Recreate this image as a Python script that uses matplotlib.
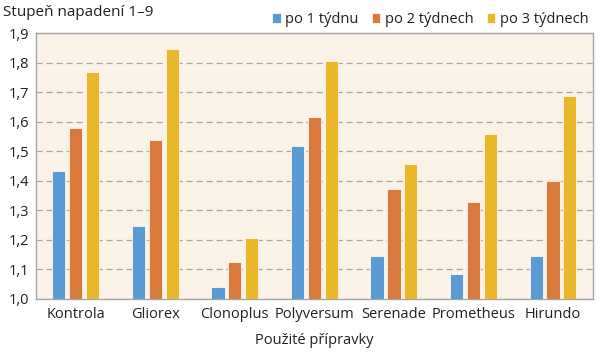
import matplotlib
matplotlib.use('agg')
import matplotlib.pyplot as plt
import numpy as np

plt.rcParams['font.family'] = ['Open Sans', 'DejaVu Sans']

products = ['Kontrola', 'Gliorex', 'Clonoplus', 'Polyversum', 'Serenade', 'Prometheus', 'Hirundo']
week1 = [1.432, 1.247, 1.040, 1.517, 1.145, 1.083, 1.145]
week2 = [1.578, 1.540, 1.125, 1.615, 1.372, 1.330, 1.400]
week3 = [1.767, 1.845, 1.205, 1.805, 1.456, 1.560, 1.687]
series_names = ['po 1 týdnu', 'po 2 týdnech', 'po 3 týdnech']
yticks = [1.0, 1.1, 1.2, 1.3, 1.4, 1.5, 1.6, 1.7, 1.8, 1.9]

colors = ['#5b9bd5', '#d9793b', '#ebb72a']

fig = plt.figure(figsize=(6, 3.53), dpi=100)
ax = fig.add_axes([0.06, 0.153, 0.928, 0.753])
ax.set_facecolor('#fcf3e8')

x = np.arange(len(products))
pitch = 0.2125
width = 0.165
for i, (vals, name) in enumerate(zip([week1, week2, week3], series_names)):
    ax.bar(x + (i - 1) * pitch, np.array(vals) - 1.0, width, bottom=1.0,
           color=colors[i], edgecolor='#fdf6ec', linewidth=0.6, label=name, zorder=3)

ax.set_xlim(-0.5, len(products) - 0.5)
ax.set_ylim(1.0, 1.9)
ax.set_yticks(yticks)
ax.set_yticklabels([('%.1f' % t).replace('.', ',') for t in yticks])
ax.set_xticks(x)
ax.set_xticklabels(products)
ax.tick_params(axis='both', length=0, labelsize=10.5, colors='#231f20')
ax.tick_params(axis='x', pad=6)
ax.tick_params(axis='y', pad=5)

ax.yaxis.grid(True, color='#a6a6a6', linestyle=(0, (5, 3)), linewidth=0.9, zorder=0)
for s in ax.spines.values():
    s.set_color('#a6a6a6')
    s.set_linewidth(1.0)

ax.set_xlabel('Použité přípravky', fontsize=10.5, color='#231f20', labelpad=8)
fig.text(0.005, 0.965, 'Stupeň napadení 1–9', fontsize=11, color='#231f20', va='center')

ax.legend(loc='lower right', bbox_to_anchor=(1.005, 0.995), ncol=3, frameon=False,
          fontsize=10.5, handlelength=0.6, handleheight=0.6, handletextpad=0.3,
          columnspacing=0.9, borderaxespad=0.1, labelcolor='#231f20')

fig.savefig('out.png', dpi=100)
